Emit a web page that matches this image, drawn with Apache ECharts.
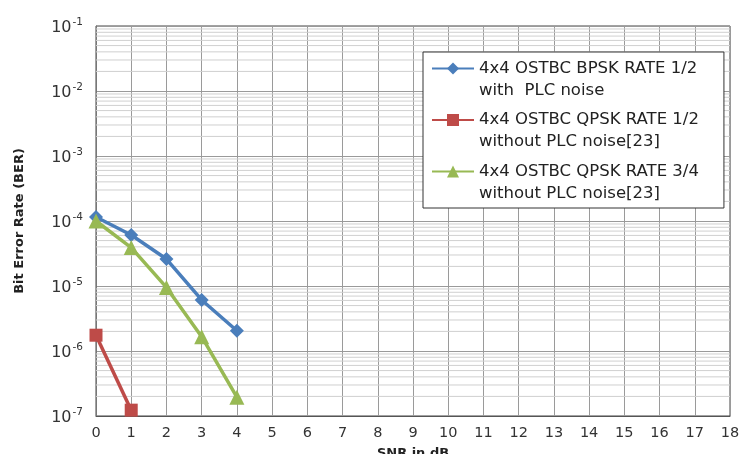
<!DOCTYPE html>
<html><head><meta charset="utf-8">
<script src="https://cdn.jsdelivr.net/npm/echarts@6/dist/echarts.min.js"></script>
<style>html,body{margin:0;padding:0;background:#fff}#c{width:740px;height:454px}</style>
</head><body><div id="c"></div>
<script>
const snr = [0, 1, 2, 3, 4];
const bpskPLC = [1.15e-4, 6.1e-5, 2.6e-5, 6.1e-6, 2.05e-6];
const qpsk12 = [1.75e-6, 1.23e-7];
const qpsk34 = [1.0e-4, 3.9e-5, 9.5e-6, 1.66e-6, 1.95e-7];
const names = ['4x4 OSTBC BPSK RATE 1/2\nwith  PLC noise', '4x4 OSTBC QPSK RATE 1/2\nwithout PLC noise[23]', '4x4 OSTBC QPSK RATE 3/4\nwithout PLC noise[23]'];
const xTicks = [0,1,2,3,4,5,6,7,8,9,10,11,12,13,14,15,16,17,18];
const decades = [-7,-6,-5,-4,-3,-2,-1];
const mantissas = [2,3,4,5,6,7,8,9];
const minorGrid = [];
decades.slice(0, -1).forEach(function (d) { mantissas.forEach(function (m) { minorGrid.push(m * Math.pow(10, d)); }); });

function pairs(ys) { return ys.map(function (y, i) { return [snr[i], y]; }); }
const gridSegs = [];
minorGrid.forEach(function (v) {
  gridSegs.push([xTicks[0], v], [xTicks[xTicks.length - 1], v], [xTicks[xTicks.length - 1], '-']);
});
const font = 'DejaVu Sans';
const chart = echarts.init(document.getElementById('c'), null, {renderer: 'canvas'});
chart.setOption({
  animation: false,
  backgroundColor: '#fff',
  grid: {left: 96, right: 10, top: 26, bottom: 38, show: true, borderColor: '#444', borderWidth: 1, outerBoundsMode: 'none', containLabel: false},
  xAxis: {
    type: 'value', min: 0, max: 18, interval: 1,
    name: 'SNR in dB', nameLocation: 'middle', nameGap: 31,
    nameTextStyle: {fontFamily: font, fontWeight: 'bold', fontSize: 13, color: '#222'},
    axisLine: {lineStyle: {color: '#555'}}, axisTick: {show: false},
    axisLabel: {fontFamily: font, fontSize: 14.5, color: '#333', margin: 10},
    splitLine: {show: true, lineStyle: {color: '#9a9a9a', width: 1}}
  },
  yAxis: {
    type: 'log', logBase: 10, min: 1e-7, max: 1e-1, interval: 1,
    name: 'Bit Error Rate (BER)', nameLocation: 'middle', nameGap: 70,
    nameTextStyle: {fontFamily: font, fontWeight: 'bold', fontSize: 13, color: '#222'},
    axisLine: {show: true, lineStyle: {color: '#777'}}, axisTick: {show: false},
    axisLabel: {
      margin: 13,
      formatter: function (v) { return '{b|10}{s|' + Math.round(Math.log10(v)) + '}'; },
      rich: {
        b: {fontFamily: font, fontSize: 16, color: '#333', verticalAlign: 'bottom'},
        s: {fontFamily: font, fontSize: 10.5, color: '#333', verticalAlign: 'top', padding: [0, 0, 8, 1]}
      }
    },
    splitLine: {show: true, lineStyle: {color: '#9a9a9a', width: 1}}
  },
  legend: {
    show: true, orient: 'vertical', left: 423, top: 52,
    backgroundColor: '#fff', borderColor: '#333', borderWidth: 1,
    padding: [-13, 25, 6, 8], itemGap: -8.5, itemWidth: 42, itemHeight: 15,
    data: names,
    formatter: function (n) { var p = n.split('\n'); return '{e| }\n{a|' + p[0] + '}\n{a|' + p[1] + '}'; },
    textStyle: {
      rich: {
        e: {fontFamily: font, fontSize: 15, lineHeight: 22},
        a: {fontFamily: font, fontSize: 16.5, lineHeight: 22, color: '#222'}
      }
    }
  },
  series: [
    {
      name: 'minor', type: 'line', data: gridSegs, silent: true, symbol: 'none',
      connectNulls: false, lineStyle: {color: '#d0d0d0', width: 1}, z: 1
    },
    {
      name: names[0], type: 'line', data: pairs(bpskPLC),
      symbol: 'diamond', symbolSize: 14, itemStyle: {color: '#4A7EBB'},
      lineStyle: {width: 3.5, color: '#4A7EBB'}, z: 5
    },
    {
      name: names[1], type: 'line', data: pairs(qpsk12),
      symbol: 'rect', symbolSize: 13, itemStyle: {color: '#BE4B48'},
      lineStyle: {width: 3.5, color: '#BE4B48'}, z: 5
    },
    {
      name: names[2], type: 'line', data: pairs(qpsk34),
      symbol: 'triangle', symbolSize: 15, itemStyle: {color: '#98B954'},
      lineStyle: {width: 3.5, color: '#98B954'}, z: 5
    }
  ]
});
</script></body></html>
